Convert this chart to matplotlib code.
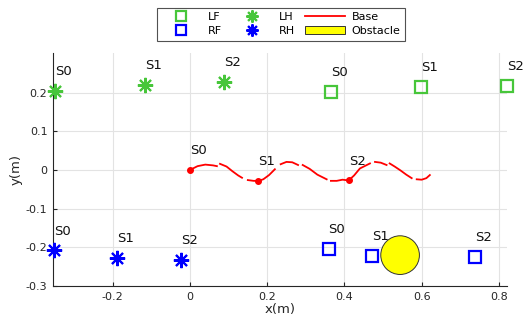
import numpy as np
import matplotlib
matplotlib.use('Agg')
import matplotlib.pyplot as plt
from matplotlib.patches import Circle
from matplotlib.ticker import FormatStrFormatter

# foot positions at steps S0, S1, S2
step_names = ['S0', 'S1', 'S2']
lf_x = [0.365, 0.599, 0.821]
lf_y = [0.201, 0.214, 0.218]
lh_x = [-0.349, -0.116, 0.088]
lh_y = [0.205, 0.221, 0.228]
rf_x = [0.359, 0.472, 0.737]
rf_y = [-0.204, -0.223, -0.225]
rh_x = [-0.352, -0.188, -0.023]
rh_y = [-0.208, -0.227, -0.233]

# base trajectory (gaps as nan)
base_x = [0.0, 0.02, 0.04, 0.06, 0.07, np.nan,
          0.078, 0.095, 0.11, 0.125, 0.135, np.nan,
          0.15, 0.165, 0.177, 0.19, 0.205, 0.22, np.nan,
          0.235, 0.25, 0.265, 0.28, np.nan,
          0.292, 0.31, 0.33, 0.354, np.nan,
          0.365, 0.38, 0.395, 0.411, 0.425, 0.44, 0.466, np.nan,
          0.479, 0.494, 0.509, np.nan,
          0.517, 0.53, 0.545, 0.56, 0.574, np.nan,
          0.587, 0.60, 0.612, 0.621]
base_y = [0.0, 0.010, 0.014, 0.012, 0.010, np.nan,
          0.016, 0.009, -0.003, -0.014, -0.020, np.nan,
          -0.026, -0.028, -0.028, -0.024, -0.013, 0.002, np.nan,
          0.015, 0.021, 0.020, 0.013, np.nan,
          0.013, 0.003, -0.012, -0.024, np.nan,
          -0.028, -0.028, -0.025, -0.027, -0.014, 0.004, 0.017, np.nan,
          0.021, 0.019, 0.013, np.nan,
          0.017, 0.009, -0.001, -0.012, -0.021, np.nan,
          -0.024, -0.025, -0.021, -0.013]
base_step_x = [0.0, 0.177, 0.411]
base_step_y = [0.0, -0.028, -0.027]

obstacle_center = (0.544, -0.220)
obstacle_r = 0.05

green = '#47c63a'
lab_off = 0.05

fig = plt.figure(figsize=(5.25, 3.2), dpi=100)
ax = fig.add_axes([0.101, 0.106, 0.865, 0.729])

ax.grid(True, color='#e3e3e3', linewidth=0.8)
ax.set_axisbelow(True)

ax.plot(lf_x, lf_y, 's', color=green, mfc='none', ms=9, mew=1.6, ls='none', label='LF', clip_on=False, zorder=3)
ax.plot(rf_x, rf_y, 's', color='blue', mfc='none', ms=9, mew=1.6, ls='none', label='RF', clip_on=False, zorder=3)
ax.plot(lh_x, lh_y, marker=(8, 2, 0), color=green, ms=11, mew=1.5, ls='none', label='LH', clip_on=False, zorder=3)
ax.plot(rh_x, rh_y, marker=(8, 2, 0), color='blue', ms=11, mew=1.5, ls='none', label='RH', clip_on=False, zorder=3)
ax.plot(base_x, base_y, '-', color='red', lw=1.3, label='Base', zorder=3)
ax.plot(base_step_x, base_step_y, 'o', color='red', ms=4, zorder=3)

circ = Circle(obstacle_center, obstacle_r, facecolor='yellow', edgecolor='#333333', lw=0.7, label='Obstacle', zorder=2)
ax.add_patch(circ)

for xs, ys in [(lf_x, lf_y), (lh_x, lh_y), (rf_x, rf_y), (rh_x, rh_y), (base_step_x, base_step_y)]:
    for name, x, y in zip(step_names, xs, ys):
        ax.text(x, y + lab_off, name, fontsize=9.5, ha='left', va='center', color='#111111')

ax.set_xlim(-0.354, 0.821)
ax.set_ylim(-0.3, 0.303)
ax.set_xticks([-0.2, 0, 0.2, 0.4, 0.6, 0.8])
ax.set_yticks([-0.3, -0.2, -0.1, 0, 0.1, 0.2])
ax.xaxis.set_major_formatter(FormatStrFormatter('%g'))
ax.yaxis.set_major_formatter(FormatStrFormatter('%g'))
ax.tick_params(direction='in', length=3, labelsize=8, colors='#262626', pad=4)
ax.spines['top'].set_visible(False)
ax.spines['right'].set_visible(False)
for s in ['left', 'bottom']:
    ax.spines[s].set_color('#262626')
    ax.spines[s].set_linewidth(0.8)

ax.set_xlabel('x(m)', fontsize=9.5, color='#262626', labelpad=1)
ax.set_ylabel('y(m)', fontsize=9.5, color='#262626', labelpad=2)

handles, labels = ax.get_legend_handles_labels()
leg = fig.legend(handles, labels, ncol=3, loc='upper center', bbox_to_anchor=(0.535, 0.993),
                 fontsize=8, frameon=True, fancybox=False, edgecolor='#262626',
                 handlelength=3.6, handletextpad=0.6, columnspacing=0.9,
                 borderpad=0.4, labelspacing=0.35, markerscale=0.8)
leg.get_frame().set_linewidth(0.8)

fig.savefig('out.png', dpi=100)
